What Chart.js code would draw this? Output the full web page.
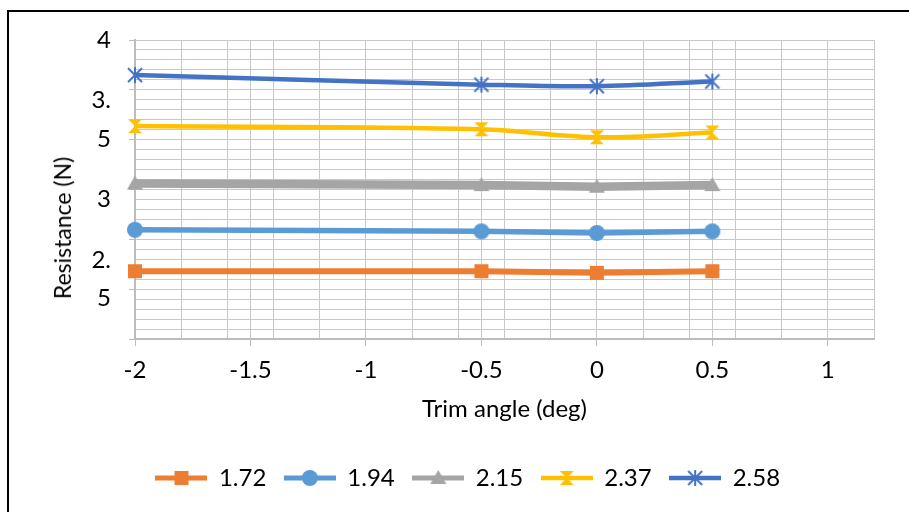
<!DOCTYPE html>
<html>
<head>
<meta charset="utf-8">
<script src="https://cdn.jsdelivr.net/npm/chart.js@4.4.1/dist/chart.umd.min.js"></script>
<style>
  html, body { margin: 0; padding: 0; background: #fff; }
  #wrap { position: relative; width: 909px; height: 512px; overflow: hidden; }
  #frame { position: absolute; left: 7px; top: 10px; width: 940px; height: 540px;
           border-left: 2px solid #000; border-top: 2px solid #000; }
  #ytitle { position: absolute; left: 62px; top: 228px; transform: translate(-50%, -50%) rotate(-90deg);
            font: 23px Lato, sans-serif; color: #000; white-space: nowrap; }
  canvas { position: absolute; left: 0; top: 0; }
</style>
</head>
<body>
<div id="wrap">
  <div id="frame"></div>
  <canvas id="resistanceChart" width="909" height="512"></canvas>
  <div id="ytitle">Resistance (N)</div>
</div>
<script>
// trim angle (deg) on x, one series per speed
const trimAngles = [-2, -0.5, 0, 0.5];
const speedLabels = ['1.72', '1.94', '2.15', '2.37', '2.58'];
const res172 = [2.55, 2.55, 2.54, 2.55];
const res194 = [2.81, 2.80, 2.79, 2.80];
const res215 = [3.10, 3.09, 3.08, 3.09];
const res237 = [3.46, 3.44, 3.39, 3.42];
const res258 = [3.78, 3.72, 3.71, 3.74];
const xTickLabels = [-2, -1.5, -1, -0.5, 0, 0.5, 1];
const yTickLabels = [4, 3.5, 3, 2.5];

const seriesValues = [res172, res194, res215, res237, res258];
const seriesColors = ['#ED7D31', '#5B9BD5', '#A5A5A5', '#FFC000', '#4472C4'];
const seriesShapes = ['square', 'circle', 'triangle', 'hourglass', 'star'];
const seriesWidths = [6, 5.5, 8.5, 4.5, 4.5];
const seriesTension = [0, 0, 0, 0.35, 0.35];

const gridColor = '#c8c8c8';
const axisColor = '#bcbcbc';
const none = 'rgba(0,0,0,0)';

Chart.defaults.font.family = 'Lato, sans-serif';
Chart.defaults.font.size = 24;
Chart.defaults.color = '#000';

function drawShape(g, shape, color, cx, cy) {
  g.fillStyle = color;
  g.strokeStyle = color;
  g.beginPath();
  if (shape === 'square') {
    g.rect(cx - 7, cy - 7, 14, 14);
    g.fill();
  } else if (shape === 'circle') {
    g.arc(cx, cy, 8, 0, Math.PI * 2);
    g.fill();
  } else if (shape === 'triangle') {
    g.moveTo(cx, cy - 8);
    g.lineTo(cx + 8, cy + 6);
    g.lineTo(cx - 8, cy + 6);
    g.closePath();
    g.fill();
  } else if (shape === 'hourglass') {
    g.moveTo(cx - 7, cy - 7);
    g.lineTo(cx + 7, cy - 7);
    g.lineTo(cx - 7, cy + 7);
    g.lineTo(cx + 7, cy + 7);
    g.closePath();
    g.fill();
  } else if (shape === 'star') {
    g.lineWidth = 2;
    g.moveTo(cx - 7, cy - 7); g.lineTo(cx + 7, cy + 7);
    g.moveTo(cx + 7, cy - 7); g.lineTo(cx - 7, cy + 7);
    g.moveTo(cx, cy - 8); g.lineTo(cx, cy + 8);
    g.stroke();
  }
}

function markerImage(shape, color) {
  const c = document.createElement('canvas');
  c.width = 18; c.height = 18;
  drawShape(c.getContext('2d'), shape, color, 9, 9);
  return c;
}

// legend swatch: short line with the marker on it
function legendImage(shape, color, lw) {
  const c = document.createElement('canvas');
  c.width = 52; c.height = 18;
  const g = c.getContext('2d');
  g.strokeStyle = color;
  g.lineWidth = Math.min(lw, 5);
  g.beginPath();
  g.moveTo(0, 9); g.lineTo(52, 9);
  g.stroke();
  drawShape(g, shape, color, 26, 9);
  return c;
}

const legendIcons = seriesShapes.map((s, i) => legendImage(s, seriesColors[i], seriesWidths[i]));

const datasets = speedLabels.map((label, i) => ({
  label: label,
  data: trimAngles.map((x, j) => ({ x: x, y: seriesValues[i][j] })),
  borderColor: seriesColors[i],
  backgroundColor: seriesColors[i],
  borderWidth: seriesWidths[i],
  pointStyle: markerImage(seriesShapes[i], seriesColors[i]),
  pointRadius: 8,
  tension: seriesTension[i],
  clip: false
}));

// x ticks every 0.1: grid on 0.2 and 0.5 steps, labels on 0.5 steps
const xGrid = [];
for (let i = -20; i <= 12; i++) xGrid.push(i / 10);
const xIsLabel = v => xTickLabels.some(t => Math.abs(t - v) < 1e-6);
const xIsGrid = v => { const k = Math.round(v * 10); return k % 2 === 0 || k % 5 === 0; };

// y ticks every 1/16 between 2.125 and 4, marks every 5th
const yGrid = [];
for (let i = 34; i <= 64; i++) yGrid.push(i / 16);
const yIsMark = v => (64 - Math.round(v * 16)) % 5 === 0;
const wrapLabel = s => s.includes('.') ? [s.slice(0, s.indexOf('.') + 1), s.slice(s.indexOf('.') + 1)] : s;

const ctx = document.getElementById('resistanceChart').getContext('2d');
new Chart(ctx, {
  type: 'line',
  data: { datasets: datasets },
  options: {
    responsive: false,
    animation: false,
    layout: { padding: { top: 40, right: 35, bottom: 12, left: 62 } },
    scales: {
      x: {
        type: 'linear',
        min: -2,
        max: 1.2,
        afterBuildTicks: s => { s.ticks = xGrid.map(v => ({ value: v })); },
        afterFit: s => { s.height = 109; },
        grid: {
          color: c => (c.tick && xIsGrid(c.tick.value)) ? gridColor : none,
          tickColor: c => (c.tick && xIsLabel(c.tick.value)) ? axisColor : none,
          tickLength: 7
        },
        border: { color: axisColor, width: 2 },
        ticks: {
          autoSkip: false,
          maxRotation: 0,
          padding: 10,
          callback: v => xIsLabel(v) ? String(v) : ''
        },
        title: { display: true, text: 'Trim angle (deg)', padding: { top: 4, bottom: 24 } }
      },
      y: {
        min: 2.125,
        max: 4,
        afterBuildTicks: s => { s.ticks = yGrid.map(v => ({ value: v })); },
        afterFit: s => { s.width = 73; },
        grid: {
          color: gridColor,
          tickColor: c => (c.tick && yIsMark(c.tick.value)) ? axisColor : none,
          tickLength: 6
        },
        border: { color: axisColor, width: 2 },
        ticks: {
          autoSkip: false,
          padding: 18,
          font: { lineHeight: 1.6 },
          callback: v => yTickLabels.some(t => Math.abs(t - v) < 1e-6) ? wrapLabel(String(v)) : ''
        }
      }
    },
    plugins: {
      legend: {
        position: 'bottom',
        labels: {
          usePointStyle: true,
          pointStyleWidth: 51,
          padding: 18,
          generateLabels: chart => Chart.defaults.plugins.legend.labels.generateLabels(chart)
            .map((item, i) => Object.assign(item, { pointStyle: legendIcons[i] }))
        }
      },
      tooltip: { enabled: false }
    }
  }
});
</script>
</body>
</html>
